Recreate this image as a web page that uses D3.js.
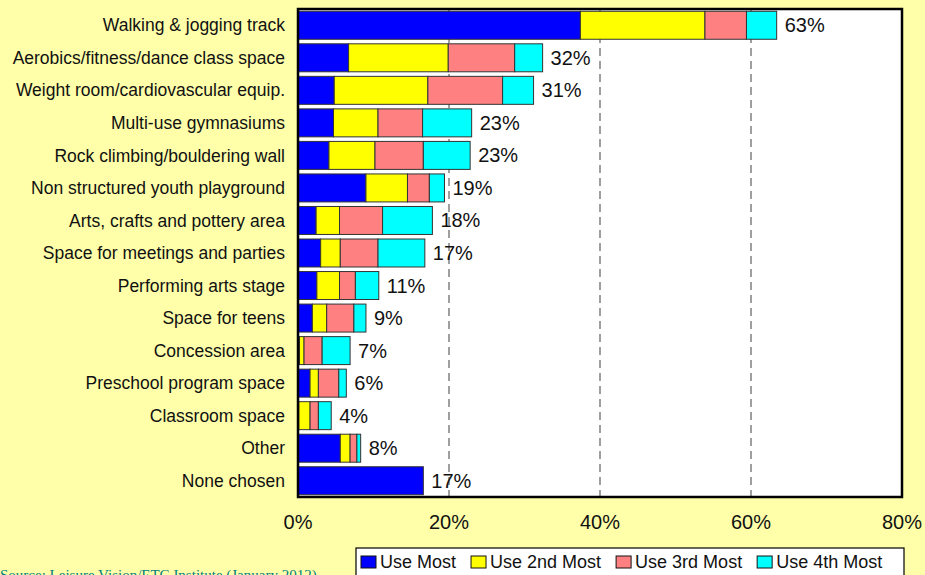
<html>

<head>
    <script src="https://d3js.org/d3.v7.min.js"></script>
    <style>
        body { margin: 0; background: #ffffaa; }
    </style>
</head>

<body>
    <div id="vis"></div>
</body>

<script>

    // Data (percent of respondents)
    var categories = ["Walking & jogging track", "Aerobics/fitness/dance class space",
        "Weight room/cardiovascular equip.", "Multi-use gymnasiums", "Rock climbing/bouldering wall",
        "Non structured youth playground", "Arts, crafts and pottery area", "Space for meetings and parties",
        "Performing arts stage", "Space for teens", "Concession area", "Preschool program space",
        "Classroom space", "Other", "None chosen"];
    var useMost = [37.4, 6.7, 4.8, 4.7, 4.1, 9.0, 2.4, 3.0, 2.5, 1.9, 0.2, 1.6, 0.1, 5.6, 16.6];
    var use2nd = [16.5, 13.2, 12.4, 5.9, 6.1, 5.5, 3.1, 2.6, 3.0, 1.9, 0.6, 1.1, 1.5, 1.3, 0];
    var use3rd = [5.5, 8.8, 9.9, 5.9, 6.4, 2.9, 5.7, 5.0, 2.1, 3.6, 2.4, 2.7, 1.1, 0.9, 0];
    var use4th = [4.0, 3.7, 4.1, 6.5, 6.2, 2.0, 6.6, 6.2, 3.1, 1.6, 3.7, 1.0, 1.7, 0.5, 0];
    var totals = [63, 32, 31, 23, 23, 19, 18, 17, 11, 9, 7, 6, 4, 8, 17];
    var seriesNames = ["Use Most", "Use 2nd Most", "Use 3rd Most", "Use 4th Most"];
    var xTicks = [0, 20, 40, 60, 80];
    var gridTicks = [20, 40, 60];
    var sourceNote = "Source: Leisure Vision/ETC Institute (January 2012)";

    var colors = ["#0000ff", "#ffff00", "#ff8080", "#00ffff"];

    //Setting up the graph area
    var margin = { top: 9, right: 23, bottom: 78, left: 298 },
        width = 925 - margin.left - margin.right,
        height = 575 - margin.top - margin.bottom;

    var root = d3.select("#vis")
        .append("svg")
        .attr("width", 925)
        .attr("height", 575)
        .style("font-family", "Arial, 'Liberation Sans', sans-serif");

    var svg = root.append("g")
        .attr("transform", "translate(" + margin.left + "," + margin.top + ")");

    var table = categories.map(function (c, i) {
        return { cat: c, s0: useMost[i], s1: use2nd[i], s2: use3rd[i], s3: use4th[i], total: totals[i] };
    });
    var stacked = d3.stack().keys(["s0", "s1", "s2", "s3"])(table);

    var x = d3.scaleLinear().domain([0, 80]).range([0, width]);
    var y = d3.scaleBand().domain(categories).range([0, height])
        .paddingInner(0.14).paddingOuter(0.07);

    // plot background
    svg.append("rect")
        .attr("width", width)
        .attr("height", height)
        .attr("fill", "white");

    // dashed gridlines
    svg.append("g")
        .selectAll("line")
        .data(gridTicks)
        .enter()
        .append("line")
        .attr("x1", function (d) { return x(d); })
        .attr("x2", function (d) { return x(d); })
        .attr("y1", 0)
        .attr("y2", height)
        .attr("stroke", "#808080")
        .attr("stroke-width", 1.5)
        .attr("stroke-dasharray", "8,5");

    // stacked bars
    svg.append("g")
        .selectAll("g")
        .data(stacked)
        .enter()
        .append("g")
        .attr("fill", function (d, i) { return colors[i]; })
        .selectAll("rect")
        .data(function (d) { return d; })
        .enter()
        .filter(function (d) { return d[1] - d[0] > 0; })
        .append("rect")
        .attr("x", function (d) { return x(d[0]); })
        .attr("y", function (d) { return y(d.data.cat); })
        .attr("width", function (d) { return x(d[1]) - x(d[0]); })
        .attr("height", y.bandwidth())
        .attr("stroke", "#333")
        .attr("stroke-width", 1);

    // total labels
    svg.append("g")
        .selectAll("text")
        .data(table)
        .enter()
        .append("text")
        .attr("x", function (d) { return x(d.s0 + d.s1 + d.s2 + d.s3) + 8; })
        .attr("y", function (d) { return y(d.cat) + y.bandwidth() / 2; })
        .attr("dy", "0.35em")
        .style("font-size", "20px")
        .attr("fill", "#111")
        .text(function (d) { return d.total + "%"; });

    // plot border
    svg.append("rect")
        .attr("width", width)
        .attr("height", height)
        .attr("fill", "none")
        .attr("stroke", "black")
        .attr("stroke-width", 2.5);

    // category labels
    svg.append("g")
        .selectAll("text")
        .data(categories)
        .enter()
        .append("text")
        .attr("x", -13)
        .attr("y", function (d) { return y(d) + y.bandwidth() / 2; })
        .attr("dy", "0.35em")
        .attr("text-anchor", "end")
        .style("font-size", "17.5px")
        .attr("fill", "#111")
        .text(function (d) { return d; });

    //The X Axis labels
    svg.append("g")
        .selectAll("text")
        .data(xTicks)
        .enter()
        .append("text")
        .attr("x", function (d) { return x(d); })
        .attr("y", height + 32)
        .attr("text-anchor", "middle")
        .style("font-size", "20px")
        .attr("fill", "#111")
        .text(function (d) { return d + "%"; });

    // legend
    var legend = root.append("g");
    legend.append("rect")
        .attr("x", 356)
        .attr("y", 548)
        .attr("width", 548)
        .attr("height", 40)
        .attr("fill", "white")
        .attr("stroke", "black")
        .attr("stroke-width", 1.2);

    var lx = 361;
    seriesNames.forEach(function (name, i) {
        legend.append("rect")
            .attr("x", lx)
            .attr("y", 556)
            .attr("width", 15)
            .attr("height", 12)
            .attr("fill", colors[i])
            .attr("stroke", "#111")
            .attr("stroke-width", 1);
        var t = legend.append("text")
            .attr("x", lx + 19)
            .attr("y", 568)
            .style("font-size", "18px")
            .attr("fill", "#111")
            .text(name);
        lx += 19 + t.node().getComputedTextLength() + 15;
    });

    // source note
    root.append("text")
        .attr("x", 0)
        .attr("y", 580)
        .style("font-family", "'Liberation Serif', 'Times New Roman', serif")
        .style("font-size", "15px")
        .attr("fill", "#008080")
        .text(sourceNote);

</script>

</html>
